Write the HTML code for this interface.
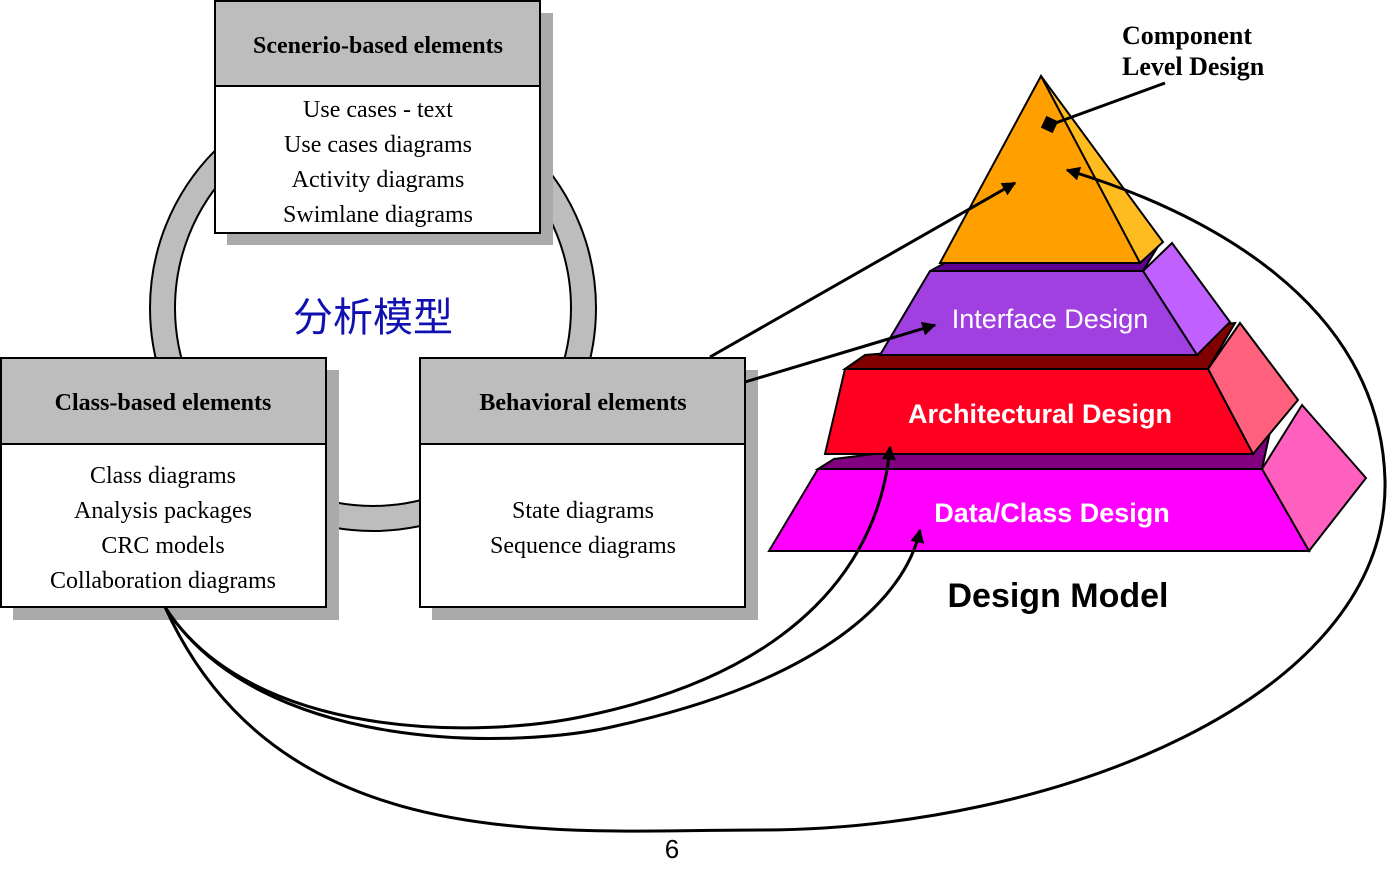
<!DOCTYPE html>
<html><head><meta charset="utf-8"><style>
html,body{margin:0;padding:0;background:#fff;}
svg{display:block;}
.hd{font-family:"Liberation Serif",serif;font-weight:bold;font-size:24px;}
.bd{font-family:"Liberation Serif",serif;font-size:24px;}
.ly{font-family:"Liberation Sans",sans-serif;font-size:27px;fill:#fff;}
</style></head><body>
<svg width="1389" height="883" viewBox="0 0 1389 883" xmlns="http://www.w3.org/2000/svg">
<defs>
<marker id="ah" viewBox="0 0 10 10" refX="9" refY="5" markerWidth="8" markerHeight="8" orient="auto-start-reverse" markerUnits="userSpaceOnUse">
<path d="M0,0 L10,5 L0,10 z" fill="#000"/></marker>
<marker id="ah2" viewBox="0 0 10 10" refX="9" refY="5" markerWidth="22" markerHeight="14" orient="auto" markerUnits="userSpaceOnUse">
<path d="M0,0 L10,5 L0,10 z" fill="#000"/></marker>
</defs>
<!-- ring -->
<path fill-rule="evenodd" fill="#bdbdbd" stroke="#000" stroke-width="2" d="M150,308 a223,223 0 1,0 446,0 a223,223 0 1,0 -446,0 Z M175,308 a198,198 0 1,0 396,0 a198,198 0 1,0 -396,0 Z"/>
<text x="373" y="331" text-anchor="middle" font-family="'Noto Sans CJK SC',sans-serif" font-size="40" fill="#1010b0">分析模型</text>

<!-- Scenario box -->
<rect x="227" y="13" width="326" height="232" fill="#aaaaaa"/>
<rect x="215" y="1" width="325" height="232" fill="#fff" stroke="#000" stroke-width="2"/>
<rect x="215" y="1" width="325" height="85" fill="#bdbdbd" stroke="#000" stroke-width="2"/>
<text class="hd" x="378" y="53" text-anchor="middle">Scenerio-based  elements</text>
<text class="bd" text-anchor="middle"><tspan x="378" y="117">Use cases - text</tspan><tspan x="378" y="152">Use cases  diagrams</tspan><tspan x="378" y="187">Activity  diagrams</tspan><tspan x="378" y="222">Swimlane  diagrams</tspan></text>

<!-- Class box -->
<rect x="13" y="370" width="326" height="250" fill="#aaaaaa"/>
<rect x="1" y="358" width="325" height="249" fill="#fff" stroke="#000" stroke-width="2"/>
<rect x="1" y="358" width="325" height="86" fill="#bdbdbd" stroke="#000" stroke-width="2"/>
<text class="hd" x="163" y="410" text-anchor="middle">Class-based  elements</text>
<text class="bd" text-anchor="middle"><tspan x="163" y="483">Class diagrams</tspan><tspan x="163" y="518">Analysis  packages</tspan><tspan x="163" y="553">CRC models</tspan><tspan x="163" y="588">Collaboration  diagrams</tspan></text>

<!-- Behavioral box -->
<rect x="432" y="370" width="326" height="250" fill="#aaaaaa"/>
<rect x="420" y="358" width="325" height="249" fill="#fff" stroke="#000" stroke-width="2"/>
<rect x="420" y="358" width="325" height="86" fill="#bdbdbd" stroke="#000" stroke-width="2"/>
<text class="hd" x="583" y="410" text-anchor="middle">Behavioral  elements</text>
<text class="bd" text-anchor="middle"><tspan x="583" y="518">State diagrams</tspan><tspan x="583" y="553">Sequence  diagrams</tspan></text>

<!-- Pyramid: Data -->
<polygon points="818,469 834,459 1276,404 1262,469" fill="#800080" stroke="#000" stroke-width="2"/>
<polygon points="1262,469 1302,405 1366,478 1309,551" fill="#ff60c0" stroke="#000" stroke-width="2"/>
<polygon points="818,469 1262,469 1309,551 769,551" fill="#ff00ff" stroke="#000" stroke-width="2"/>
<text class="ly" x="1052" y="522" text-anchor="middle" font-weight="bold">Data/Class Design</text>
<!-- Architectural -->
<polygon points="845,369 865,355 1235,323 1208,369" fill="#800000" stroke="#000" stroke-width="2"/>
<polygon points="1208,369 1240,323 1298,400 1253,454" fill="#ff607c" stroke="#000" stroke-width="2"/>
<polygon points="845,369 1208,369 1253,454 825,454" fill="#ff0020" stroke="#000" stroke-width="2"/>
<text class="ly" x="1040" y="423" text-anchor="middle" font-weight="bold">Architectural  Design</text>
<!-- Interface -->
<polygon points="930,271 945,263 1160,243 1143,271" fill="#600090" stroke="#000" stroke-width="2"/>
<polygon points="1143,271 1172,243 1230,322 1197,355" fill="#c060ff" stroke="#000" stroke-width="2"/>
<polygon points="930,271 1143,271 1197,355 880,355" fill="#a040e0" stroke="#000" stroke-width="2"/>
<text class="ly" x="1050" y="328" text-anchor="middle">Interface Design</text>
<!-- Component -->
<polygon points="1041,76 1163,242 1140,263" fill="#ffbc20" stroke="#000" stroke-width="2"/>
<polygon points="1041,76 1140,263 940,263" fill="#ffa000" stroke="#000" stroke-width="2"/>

<text x="1058" y="607" text-anchor="middle" font-family="'Liberation Sans',sans-serif" font-weight="bold" font-size="34">Design Model</text>
<text font-family="'Liberation Serif',serif" font-weight="bold" font-size="26"><tspan x="1122" y="44">Component</tspan><tspan x="1122" y="75">Level Design</tspan></text>

<!-- connectors -->
<line x1="1165" y1="83" x2="1050" y2="125" stroke="#000" stroke-width="3"/>
<rect x="1043" y="118" width="13" height="13" fill="#000" transform="rotate(25 1049.5 124.5)"/>
<line x1="710" y1="357" x2="1015" y2="183" stroke="#000" stroke-width="3" marker-end="url(#ah2)"/>
<line x1="745" y1="382" x2="935" y2="325" stroke="#000" stroke-width="3" marker-end="url(#ah2)"/>
<path d="M165,607 C250,740 480,740 590,715 C800,670 880,560 890,447" fill="none" stroke="#000" stroke-width="3" marker-end="url(#ah2)"/>
<path d="M165,607 C260,755 520,750 620,725 C820,680 905,600 920,530" fill="none" stroke="#000" stroke-width="3" marker-end="url(#ah2)"/>
<path d="M165,607 C280,860 560,830 760,830 C1050,830 1390,700 1385,480 C1380,300 1200,210 1067,170" fill="none" stroke="#000" stroke-width="3" marker-end="url(#ah2)"/>

<text x="672" y="858" text-anchor="middle" font-family="'Liberation Sans',sans-serif" font-size="26">6</text>
</svg>
</body></html>
